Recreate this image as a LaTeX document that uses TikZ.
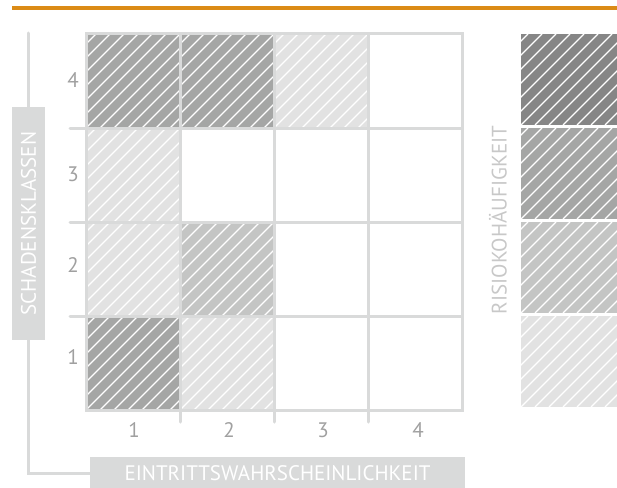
\documentclass[tikz,border=0pt]{standalone}
\usepackage{fontspec}
\setmainfont{PT Sans}
\usepackage{tikz}
\usetikzlibrary{positioning}

\definecolor{rulebar}{RGB}{219,139,22}
\definecolor{gridgray}{RGB}{217,218,218}
\definecolor{numgray}{RGB}{160,160,160}
\definecolor{labelgray}{RGB}{200,200,200}
\definecolor{riskmax}{RGB}{134,134,134}
\definecolor{riskhigh}{RGB}{165,166,165}
\definecolor{riskmid}{RGB}{196,197,196}
\definecolor{risklow}{RGB}{226,226,226}

\begin{document}
\begin{tikzpicture}[
  x=1pt, y=-1pt,
  gridline/.style={line width=3pt, draw=gridgray, line cap=round},
  hatch/.style={draw=white, line width=1.3pt},
  axisbox/.style={fill=gridgray, text=white, inner sep=0pt, font=\fontsize{21}{21}\selectfont},
  num/.style={text=numgray, inner sep=0pt, font=\fontsize{21}{21}\selectfont}
]
  \useasboundingbox (0,0) rectangle (617,487);

  % top rule
  \coordinate (barl) at (12,8.5);
  \coordinate (barr) at (617,8.5);
  \draw[line width=4pt, rulebar] (barl) -- (barr);

  % hatched cells of the matrix
  \foreach \c/\r/\col in {1/4/riskhigh, 2/4/riskhigh, 3/4/risklow, 1/3/risklow,
                          1/2/risklow, 2/2/riskmid, 1/1/riskhigh, 2/1/risklow} {
    \pgfmathsetmacro{\xa}{86+94*(\c-1)}
    \pgfmathsetmacro{\ya}{34+94*(4-\r)}
    \fill[\col] (\xa,\ya) rectangle ++(94,94);
    \begin{scope}
      \clip (\xa,\ya) rectangle ++(94,94);
      \foreach \k in {-98,-84,...,98}
        \draw[hatch] (\xa+\k,\ya+94) -- ++(94,-94);
    \end{scope}
  }

  % grid
  \foreach \i in {1,2,3} {
    \draw[gridline] (86+94*\i,34) -- (86+94*\i,422);
    \draw[gridline] (70,34+94*\i) -- (462,34+94*\i);
  }
  \draw[gridline, line cap=butt] (86,34) rectangle (462,410);

  % class numbers
  \foreach \n/\y in {4/80,3/174.5,2/265.5,1/357}
    \node[num] (row\n) at (73,\y) {\n};
  \foreach \n/\x in {1/134,2/229,3/323,4/418}
    \node[num] (col\n) at (\x,430) {\n};

  % axis labels
  \node[axisbox, rotate=90, minimum width=233pt, minimum height=33pt] (ylab) at (28.5,223.5) {SCHADENSKLASSEN};
  \node[axisbox, minimum width=375pt, minimum height=33pt] (xlab) at (277.5,473.5) {EINTRITTSWAHRSCHEINLICHKEIT};
  \coordinate (ytop) at (28.5,33);
  \draw[gridline] (ytop) -- (ylab.east);
  \draw[gridline, line cap=butt] (ylab.west) |- (xlab.west);

  % legend
  \foreach \j/\col in {0/riskmax, 1/riskhigh, 2/riskmid, 3/risklow} {
    \pgfmathsetmacro{\ya}{34+94*\j}
    \fill[\col] (521,\ya) rectangle ++(100,91);
    \begin{scope}
      \clip (521,\ya) rectangle ++(100,91);
      \foreach \k in {-98,-84,...,112}
        \draw[hatch] (521+\k,\ya+91) -- ++(91,-91);
    \end{scope}
  }
  \node[rotate=90, text=labelgray, inner sep=0pt, font=\fontsize{21}{21}\selectfont] (risk) at (498,220) {RISIOKOHÄUFIGKEIT};
\end{tikzpicture}
\end{document}
